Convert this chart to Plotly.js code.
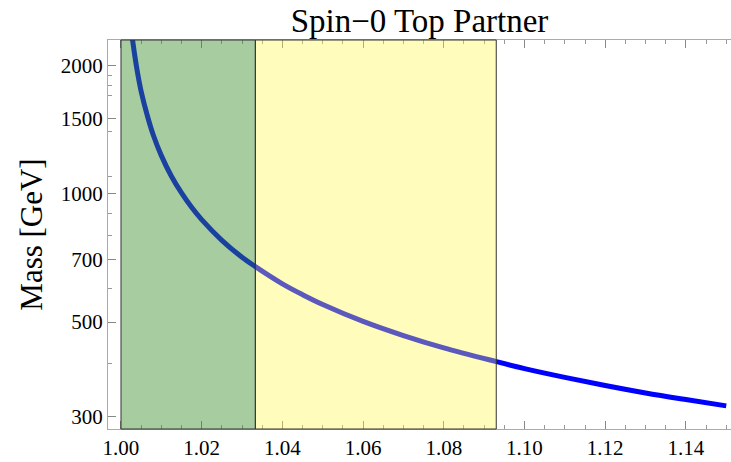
<!DOCTYPE html>
<html>
<head>
<meta charset="utf-8">
<script src="https://cdn.plot.ly/plotly-3.0.1.min.js"></script>
<style>html,body{margin:0;padding:0;background:#fff;}#chart{width:731px;height:462px;}</style>
</head>
<body>
<div id="chart"></div>
<script>
// Data
const ratio = [1.0025, 1.003, 1.004, 1.005, 1.0065, 1.008, 1.01, 1.0125, 1.015, 1.0175, 1.02, 1.025, 1.03, 1.0333, 1.04, 1.045, 1.05, 1.06, 1.07, 1.08, 1.093, 1.10, 1.11, 1.12, 1.13, 1.14, 1.15];
const massGeV = [2460, 2250, 1950, 1740, 1530, 1375, 1230, 1100, 1005, 930, 870, 778, 710, 675, 615, 580, 550, 502, 465, 435, 404, 389, 371, 355, 341, 329, 318];
const greenBand = [1.0, 1.0333];
const yellowBand = [1.0333, 1.093];
const yTickVals = [300, 500, 700, 1000, 1500, 2000];
const yTickText = ["300", "500", "700", "1000", "1500", "2000"];
const yMinorVals = [400, 600, 800, 900, 1100, 1400, 1700, 1800, 1900];
const xTickVals = [1.00, 1.02, 1.04, 1.06, 1.08, 1.10, 1.12, 1.14];
const xTickText = ["1.00", "1.02", "1.04", "1.06", "1.08", "1.10", "1.12", "1.14"];

const serif = "Liberation Serif, Times New Roman, serif";

const trace = {
  x: ratio, y: massGeV, type: 'scatter', mode: 'lines',
  line: {color: '#0000ff', width: 5, shape: 'spline'},
  hoverinfo: 'skip', showlegend: false
};

function band(edges, fill) {
  return {
    type: 'rect', xref: 'x', yref: 'paper',
    x0: edges[0], x1: edges[1], y0: 0, y1: 1,
    fillcolor: fill, line: {color: '#333333', width: 1}, layer: 'above'
  };
}

const layout = {
  width: 731, height: 462,
  margin: {l: 108, r: 0, t: 40, b: 33},
  paper_bgcolor: '#ffffff', plot_bgcolor: '#ffffff',
  showlegend: false,
  title: {
    text: 'Spin\u22120 Top Partner',
    font: {family: serif, size: 33, color: '#000'},
    x: 0.5, xref: 'paper', y: 0.955, yref: 'container', yanchor: 'middle'
  },
  xaxis: {
    range: [0.99678, 1.15118],
    tickmode: 'array', tickvals: xTickVals, ticktext: xTickText,
    ticks: 'inside', ticklen: 8, tickwidth: 1, tickcolor: '#888',
    minor: {dtick: 0.005, tick0: 1.0, ticks: 'inside', ticklen: 4, tickcolor: '#999', showgrid: false},
    showline: true, linecolor: '#aaaaaa', linewidth: 1, mirror: 'ticks',
    showgrid: false, zeroline: false,
    tickfont: {family: serif, size: 21, color: '#000'}
  },
  yaxis: {
    type: 'log',
    range: [Math.log10(280.6), Math.log10(2298)],
    tickmode: 'array', tickvals: yTickVals, ticktext: yTickText,
    ticks: 'inside', ticklen: 8, tickwidth: 1, tickcolor: '#888',
    minor: {tickmode: 'array', tickvals: yMinorVals, ticks: 'inside', ticklen: 4, tickcolor: '#999', showgrid: false},
    showline: true, linecolor: '#aaaaaa', linewidth: 1, mirror: false,
    showgrid: false, zeroline: false,
    tickfont: {family: serif, size: 21, color: '#000'},
    title: {text: 'Mass [GeV]', font: {family: serif, size: 31, color: '#000'}, standoff: 8}
  },
  shapes: [
    band(greenBand, 'rgba(58,142,44,0.45)'),
    band(yellowBand, 'rgba(255,248,70,0.36)')
  ]
};

Plotly.newPlot('chart', [trace], layout, {displayModeBar: false, staticPlot: true});
</script>
</body>
</html>
